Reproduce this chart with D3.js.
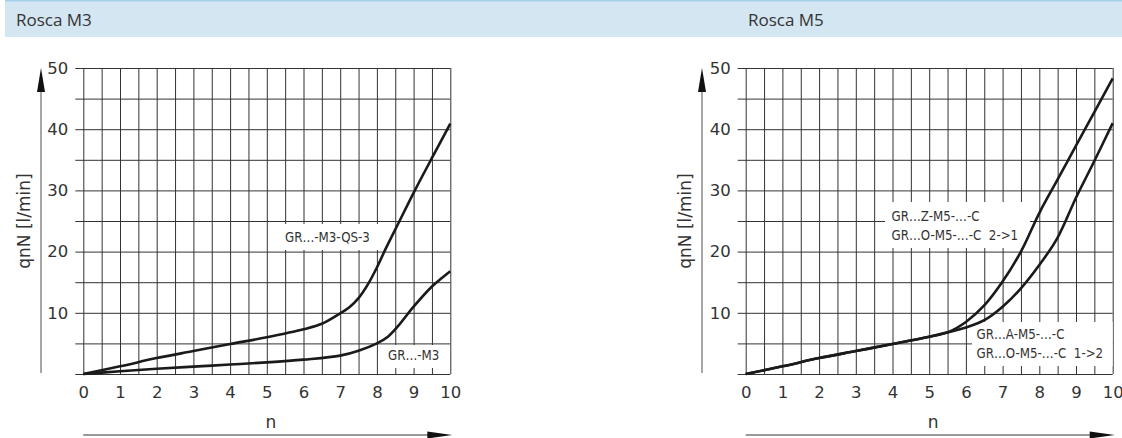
<!DOCTYPE html>
<html><head><meta charset="utf-8">
<script src="https://cdn.jsdelivr.net/npm/d3@7"></script>
<style>
body{margin:0;background:#fff;}
svg{display:block;}
</style></head><body>
<svg id="c" width="1122" height="438"></svg>
<script>
// ---- data ----
const titles = ["Rosca M3", "Rosca M5"];
const xTicks = [0,1,2,3,4,5,6,7,8,9,10];
const yTicks = [10,20,30,40,50];
const yLabel = "qnN [l/min]";
const xLabel = "n";

const m3qsX = [0,1,2,3,4,5,6,6.5,7,7.25,7.5,7.75,8,8.25,8.6,9,9.5,10];
const m3qsY = [0,1.25,2.6,3.75,4.9,6.0,7.3,8.2,9.9,10.9,12.4,14.6,17.4,20.6,24.8,29.6,35.3,40.9];
const m3X = [0,1,2,3,4,5,6,7,7.5,8,8.3,8.6,9,9.5,9.75,10];
const m3Y = [0,0.45,0.85,1.2,1.55,1.9,2.35,3.0,3.8,5.0,6.1,8.0,11.0,14.3,15.6,16.8];

const m5zX = [0,1,2,3,4,5,5.5,6,6.5,7,7.5,8,8.5,9,9.5,10];
const m5zY = [0,1.25,2.6,3.75,4.9,6.1,6.8,8.5,11.2,15.1,20.0,26.3,31.8,37.3,42.8,48.3];
const m5aX = [0,1,2,3,4,5,5.5,6,6.5,7,7.5,8,8.5,9,9.5,10];
const m5aY = [0,1.25,2.6,3.75,4.9,6.1,6.8,7.6,8.8,11.0,14.0,17.8,22.3,28.8,34.8,41.0];

const m3Labels = [["GR…-M3-QS-3"], ["GR…-M3"]];
const m5Labels = [["GR…Z-M5-…-C", "GR…O-M5-…-C  2->1"], ["GR…A-M5-…-C", "GR…O-M5-…-C  1->2"]];

// ---- drawing ----
const svg = d3.select("#c");
const FONT = "DejaVu Sans, sans-serif";
const LFONT = "DejaVu Sans Condensed, DejaVu Sans, sans-serif";

// header band
svg.append("rect").attr("x",5).attr("y",0).attr("width",1117).attr("height",37).attr("fill","#d4e6f1");
svg.append("rect").attr("x",5).attr("y",0).attr("width",1117).attr("height",1.5).attr("fill","#a6cfe8");
svg.append("text").attr("x",16).attr("y",26).text(titles[0])
  .attr("font-family","Open Sans, sans-serif").attr("font-size",17).attr("fill","#333");
svg.append("text").attr("x",748).attr("y",26).text(titles[1])
  .attr("font-family","Open Sans, sans-serif").attr("font-size",17).attr("fill","#333");

function panel(x0, axisX, series, labels){
  const W = 367, top = 68, bottom = 374;
  const x = d3.scaleLinear().domain([0,10]).range([x0, x0+W]);
  const y = d3.scaleLinear().domain([0,50]).range([bottom, top]);
  const g = svg.append("g");

  // vertical grid
  const vg = g.append("g").attr("transform",`translate(0,${bottom})`)
    .call(d3.axisBottom(x).tickValues(d3.range(0,10.01,0.5)).tickSize(-(bottom-top)).tickFormat(""));
  vg.select(".domain").remove();
  vg.selectAll("line").attr("stroke","#333").attr("stroke-width",1);
  // horizontal grid
  const hg = g.append("g").attr("transform",`translate(${x0-8},0)`)
    .call(d3.axisLeft(y).tickValues(d3.range(0,50.01,5)).tickSize(-(W+8)).tickFormat(""));
  hg.select(".domain").remove();
  hg.selectAll("line").attr("stroke","#333").attr("stroke-width",1);

  // label boxes
  labels.forEach(l=>{
    g.append("rect").attr("x",l.bx).attr("y",l.by).attr("width",l.bw).attr("height",l.bh).attr("fill","#fff");
  });

  // y tick labels
  const ya = g.append("g").attr("transform",`translate(${x0},0)`)
    .call(d3.axisLeft(y).tickValues(yTicks).tickSize(0).tickPadding(15));
  ya.select(".domain").remove();
  ya.selectAll("text").attr("font-family",FONT).attr("font-size",16.5).attr("fill","#333");
  // x tick labels
  const xa = g.append("g").attr("transform",`translate(0,${bottom})`)
    .call(d3.axisBottom(x).tickValues(xTicks).tickSize(0).tickPadding(12));
  xa.select(".domain").remove();
  xa.selectAll("text").attr("font-family",FONT).attr("font-size",16.5).attr("fill","#333");

  // y axis arrow
  g.append("line").attr("x1",axisX).attr("x2",axisX).attr("y1",85).attr("y2",373)
    .attr("stroke","#777").attr("stroke-width",1.3);
  g.append("path").attr("d",`M${axisX},${top} L${axisX-4},${top+24} L${axisX+4},${top+24} Z`).attr("fill","#111");
  // x axis arrow
  const ay = 435;
  g.append("line").attr("x1",x0).attr("x2",x0+W-20).attr("y1",ay).attr("y2",ay)
    .attr("stroke","#777").attr("stroke-width",1.3);
  g.append("path").attr("d",`M${x0+W+2},${ay} L${x0+W-23},${ay-3.5} L${x0+W-23},${ay+3.5} Z`).attr("fill","#111");

  // axis titles
  g.append("text").attr("transform",`translate(${axisX-17},${(top+bottom)/2}) rotate(-90)`)
    .attr("text-anchor","middle").attr("dominant-baseline","central")
    .attr("font-family",FONT).attr("font-size",17).attr("fill","#333").text(yLabel);
  g.append("text").attr("x",x0+W/2+4).attr("y",428).attr("text-anchor","middle")
    .attr("font-family",FONT).attr("font-size",17).attr("fill","#333").text(xLabel);

  // curves
  const line = d3.line().x(d=>x(d[0])).y(d=>y(d[1])).curve(d3.curveCatmullRom.alpha(0.5));
  series.forEach(s=>{
    g.append("path").datum(d3.zip(s.xs,s.ys)).attr("d",line)
      .attr("fill","none").attr("stroke","#1a1a1a").attr("stroke-width",2.6).attr("stroke-linejoin","round");
  });

  // label texts
  labels.forEach(l=>{
    l.lines.forEach((t,i)=>{
      g.append("text").attr("x",l.tx).attr("y",l.ty+i*19.5).attr("dominant-baseline","central")
        .attr("font-family",LFONT).attr("font-size",13.2).attr("fill","#333").style("white-space","pre")
        .attr("xml:space","preserve").text(t);
    });
  });
}

panel(83.3, 41, [{xs:m3qsX,ys:m3qsY},{xs:m3X,ys:m3Y}], [
  {bx:278,by:224,bw:104,bh:26,tx:285,ty:237,lines:m3Labels[0]},
  {bx:382,by:345,bw:68,bh:23,tx:388,ty:355,lines:m3Labels[1]}
]);
panel(745.7, 702, [{xs:m5zX,ys:m5zY},{xs:m5aX,ys:m5aY}], [
  {bx:885,by:202,bw:145,bh:46,tx:891.5,ty:216,lines:m5Labels[0]},
  {bx:972,by:322,bw:140.7,bh:44,tx:976.5,ty:334,lines:m5Labels[1]}
]);
</script>
</body></html>
